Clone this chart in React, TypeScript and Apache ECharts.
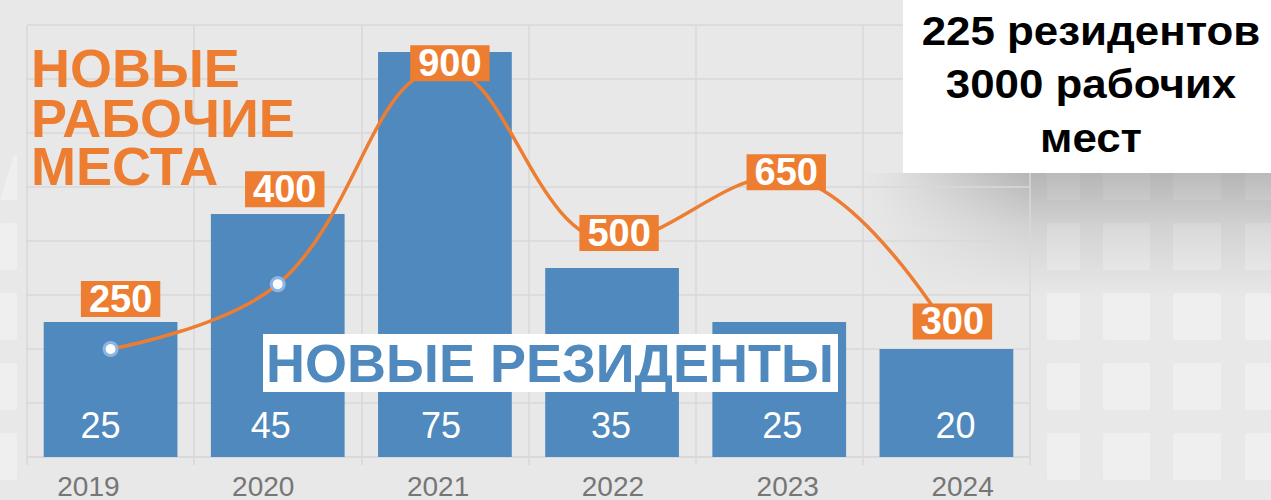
import React, { useEffect, useRef } from 'react';
import * as echarts from 'echarts';

const years = ['2019', '2020', '2021', '2022', '2023', '2024'];
const newResidents = [25, 45, 75, 35, 25, 20];
const newJobs = [250, 400, 900, 500, 650, 300];
const titleJobsLines = ['НОВЫЕ', 'РАБОЧИЕ', 'МЕСТА'];
const titleResidents = 'НОВЫЕ РЕЗИДЕНТЫ';
const summaryLines = ['225 резидентов', '3000 рабочих', 'мест'];

const FONT = '"Liberation Sans", Arial, Helvetica, sans-serif';
const ORANGE = '#ed7d31';
const BLUE = '#4f89bd';
const GRID = '#d8d8d8';
const BG = '#e8e8e8';

// label placement of the orange value boxes (px, relative to the point)
const jobLabelOffsets = [
  [10, -50],
  [7, -95],
  [5, -5],
  [7, -8],
  [7, -4],
  [6, -6],
];
// horizontal nudges of the white bar value labels (px)
const barLabelShift = [-10, -7, -4, -1, 3, 9];

function buildBackground(): any[] {
  const els: any[] = [];
  const sqFill = '#efefef';
  const rowsY = [153, 223, 293, 363, 433];
  const colsR = [
    [1047, 33],
    [1103, 47],
    [1173, 48],
    [1245, 48],
  ];
  rowsY.forEach((y) => {
    colsR.forEach(([x, w]) => {
      els.push({ type: 'rect', z: -10, silent: true, shape: { x, y, width: w, height: 47, r: 2 }, style: { fill: sqFill } });
    });
  });
  [223, 293, 363, 433].forEach((y) => {
    els.push({ type: 'rect', z: -10, silent: true, shape: { x: 0, y, width: 17, height: 47, r: 2 }, style: { fill: sqFill } });
  });
  els.push({ type: 'polygon', z: -10, silent: true, shape: { points: [[0, 200], [17, 200], [17, 155], [14, 155]] }, style: { fill: sqFill } });
  // shadow under the white box
  els.push({
    type: 'rect', z: -6, silent: true,
    shape: { x: 860, y: 173, width: 411, height: 125 },
    style: {
      fill: new echarts.graphic.LinearGradient(0, 0, 0, 1, [
        { offset: 0, color: 'rgba(0,0,0,0.22)' },
        { offset: 0.45, color: 'rgba(0,0,0,0.09)' },
        { offset: 1, color: 'rgba(0,0,0,0)' },
      ]),
    },
  });
  els.push({
    type: 'rect', z: -5, silent: true,
    shape: { x: 858, y: 173, width: 172, height: 127 },
    style: {
      fill: new echarts.graphic.LinearGradient(0, 0, 1, 0, [
        { offset: 0, color: 'rgba(232,232,232,1)' },
        { offset: 0.15, color: 'rgba(232,232,232,0.9)' },
        { offset: 1, color: 'rgba(232,232,232,0)' },
      ]),
    },
  });
  return els;
}

function buildOverlays(): any[] {
  const els: any[] = [];
  const titleYs = [68, 118, 166];
  titleJobsLines.forEach((t, i) => {
    els.push({
      type: 'text', z: 50, x: 31, y: titleYs[i],
      style: {
        text: t, fill: ORANGE, fontSize: 54, fontWeight: 'bold', fontFamily: FONT,
        lineHeight: 44, align: 'left', verticalAlign: 'middle',
      },
    });
  });
  els.push({ type: 'rect', z: 50, shape: { x: 263, y: 334, width: 575, height: 58 }, style: { fill: '#ffffff' } });
  els.push({
    type: 'text', z: 51, x: 550, y: 363,
    style: {
      text: titleResidents, fill: BLUE, fontSize: 54, fontWeight: 'bold', fontFamily: FONT,
      align: 'center', verticalAlign: 'middle',
    },
  });
  els.push({ type: 'rect', z: 50, shape: { x: 903, y: 0, width: 368, height: 173 }, style: { fill: '#ffffff' } });
  const ys = [31, 84, 138];
  summaryLines.forEach((t, i) => {
    els.push({
      type: 'text', z: 51, x: 1091, y: ys[i], scaleX: 1.07,
      style: {
        text: t, fill: '#000000', fontSize: 41, fontWeight: 'bold', fontFamily: FONT,
        align: 'center', verticalAlign: 'middle',
      },
    });
  });
  return els;
}

export default function App() {
  const ref = useRef<HTMLDivElement>(null);
  useEffect(() => {
    document.body.style.margin = '0';
    const chart = echarts.init(ref.current!, undefined, { renderer: 'svg' });
    const option: any = {
      animation: false,
      backgroundColor: BG,
      grid: [
        { left: 27, right: 241, top: 25, bottom: 43, containLabel: false },
        { left: 1, width: 1049, top: 25, bottom: 43, containLabel: false },
      ],
      xAxis: [
        {
          type: 'category', gridIndex: 0, data: years, boundaryGap: true,
          axisLine: { show: true, lineStyle: { color: GRID, width: 1.5 } },
          axisTick: { show: true, length: 8, lineStyle: { color: GRID, width: 1.5 } },
          axisLabel: { show: false },
          splitLine: { show: true, lineStyle: { color: GRID, width: 1.5 } },
        },
        {
          type: 'category', gridIndex: 1, data: years, boundaryGap: true,
          axisLine: { show: false }, axisTick: { show: false }, splitLine: { show: false },
          axisLabel: { show: true, color: '#767676', fontSize: 28, fontFamily: FONT, margin: 16 },
        },
      ],
      yAxis: [
        {
          type: 'value', gridIndex: 0, min: 0, max: 80, interval: 10,
          axisLine: { show: false }, axisTick: { show: false }, axisLabel: { show: false },
          splitLine: { show: true, lineStyle: { color: GRID, width: 1.5 } },
        },
        {
          type: 'value', gridIndex: 0, min: 0, max: 1000, interval: 100, position: 'right',
          axisLine: { show: false }, axisTick: { show: false }, axisLabel: { show: false },
          splitLine: { show: false },
        },
        {
          type: 'value', gridIndex: 1, min: 0, max: 80, show: false,
          splitLine: { show: false },
        },
      ],
      graphic: { elements: [...buildBackground(), ...buildOverlays()] },
      series: [
        {
          type: 'bar', name: 'Новые резиденты', xAxisIndex: 0, yAxisIndex: 0,
          data: newResidents.map((v, i) => ({ value: v, label: { offset: [barLabelShift[i], 0] } })),
          barCategoryGap: '20%',
          itemStyle: { color: BLUE },
          label: {
            show: true, position: 'insideBottom', distance: 14,
            color: '#ffffff', fontSize: 36, fontFamily: FONT,
          },
        },
        {
          type: 'line', name: 'Новые рабочие места', xAxisIndex: 0, yAxisIndex: 1,
          data: newJobs.map((v, i) => ({ value: v, label: { offset: jobLabelOffsets[i] } })),
          smooth: 0.4,
          symbol: 'circle', symbolSize: 13,
          lineStyle: { color: ORANGE, width: 3.5 },
          itemStyle: { color: '#ffffff', borderColor: '#8db4e2', borderWidth: 3 },
          label: {
            show: true, position: 'inside',
            color: '#ffffff', fontSize: 38, fontWeight: 'bold', fontFamily: FONT,
            backgroundColor: ORANGE, padding: [2, 8, 0, 8], lineHeight: 34,
          },
          z: 3,
        },
      ],
    };
    chart.setOption(option);
    return () => chart.dispose();
  }, []);
  return <div ref={ref} style={{ width: 1271, height: 500 }} />;
}
